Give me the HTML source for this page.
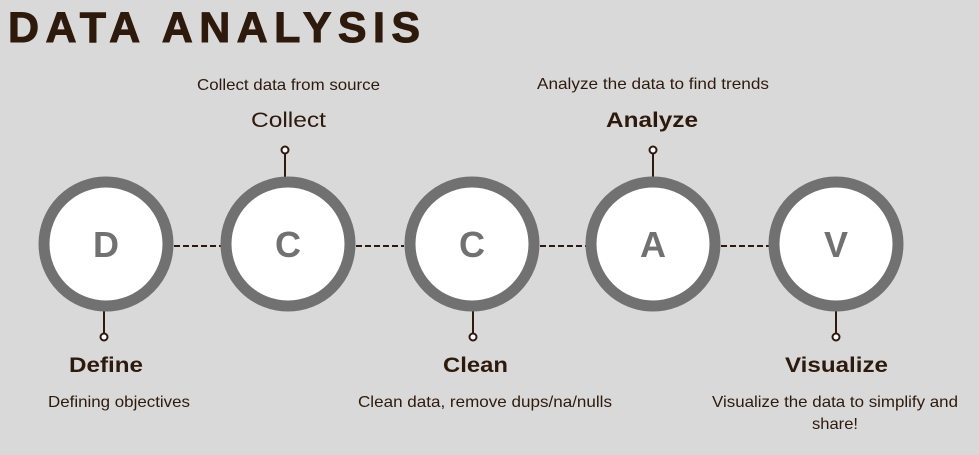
<!DOCTYPE html>
<html><head><meta charset="utf-8"><style>
html,body{margin:0;padding:0;background:#d9d9d9;}
svg{display:block;font-family:"Liberation Sans",sans-serif;}
</style></head><body>
<svg width="979" height="455" viewBox="0 0 979 455" xmlns="http://www.w3.org/2000/svg">
<rect width="979" height="455" fill="#d9d9d9"/>
<text x="8" y="42" font-size="43" font-weight="bold" fill="#2e1a0c" stroke="#2e1a0c" stroke-width="1" textLength="412" lengthAdjust="spacing">DATA ANALYSIS</text>
<g stroke="#2e1a0c" stroke-width="2" stroke-dasharray="6,3">
<line x1="174" y1="246" x2="221" y2="246"/>
<line x1="356" y1="246" x2="404" y2="246"/>
<line x1="540" y1="246" x2="586" y2="246"/>
<line x1="721" y1="246" x2="769" y2="246"/>
</g>
<g stroke="#2e1a0c" stroke-width="2" fill="#fff">
<line x1="285" y1="154" x2="285" y2="178"/><circle cx="285" cy="150" r="3.5"/>
<line x1="653" y1="154" x2="653" y2="178"/><circle cx="653" cy="150" r="3.5"/>
<line x1="104" y1="310" x2="104" y2="333"/><circle cx="104" cy="337" r="3.5"/>
<line x1="473" y1="310" x2="473" y2="333"/><circle cx="473" cy="337" r="3.5"/>
<line x1="836" y1="310" x2="836" y2="333"/><circle cx="836" cy="337" r="3.5"/>
</g>
<g fill="#fff" stroke="#717171" stroke-width="11">
<circle cx="106" cy="244" r="62"/>
<circle cx="288" cy="244" r="62"/>
<circle cx="472" cy="244" r="62"/>
<circle cx="653" cy="244" r="62"/>
<circle cx="836" cy="244" r="62"/>
</g>
<g fill="#717171" font-size="36" font-weight="bold" text-anchor="middle">
<text x="106" y="257">D</text>
<text x="288" y="257">C</text>
<text x="472" y="257">C</text>
<text x="653" y="257">A</text>
<text x="836" y="257">V</text>
</g>
<g fill="#2e1a0c" lengthAdjust="spacingAndGlyphs">
<text x="197" y="90" font-size="16" textLength="183" lengthAdjust="spacingAndGlyphs">Collect data from source</text>
<text x="251" y="127" font-size="21" textLength="75" lengthAdjust="spacingAndGlyphs">Collect</text>
<text x="537" y="89" font-size="16" textLength="232" lengthAdjust="spacingAndGlyphs">Analyze the data to find trends</text>
<text x="606" y="127" font-size="21" font-weight="bold" textLength="92" lengthAdjust="spacingAndGlyphs">Analyze</text>
<text x="69" y="372" font-size="21" font-weight="bold" textLength="74" lengthAdjust="spacingAndGlyphs">Define</text>
<text x="48" y="407" font-size="16" textLength="142" lengthAdjust="spacingAndGlyphs">Defining objectives</text>
<text x="443" y="372" font-size="21" font-weight="bold" textLength="65" lengthAdjust="spacingAndGlyphs">Clean</text>
<text x="358" y="407" font-size="16" textLength="254" lengthAdjust="spacingAndGlyphs">Clean data, remove dups/na/nulls</text>
<text x="785" y="372" font-size="21" font-weight="bold" textLength="103" lengthAdjust="spacingAndGlyphs">Visualize</text>
<text x="712" y="407" font-size="16" textLength="246" lengthAdjust="spacingAndGlyphs">Visualize the data to simplify and</text>
<text x="812" y="429" font-size="16" textLength="46" lengthAdjust="spacingAndGlyphs">share!</text>
</g>
</svg>
</body></html>
